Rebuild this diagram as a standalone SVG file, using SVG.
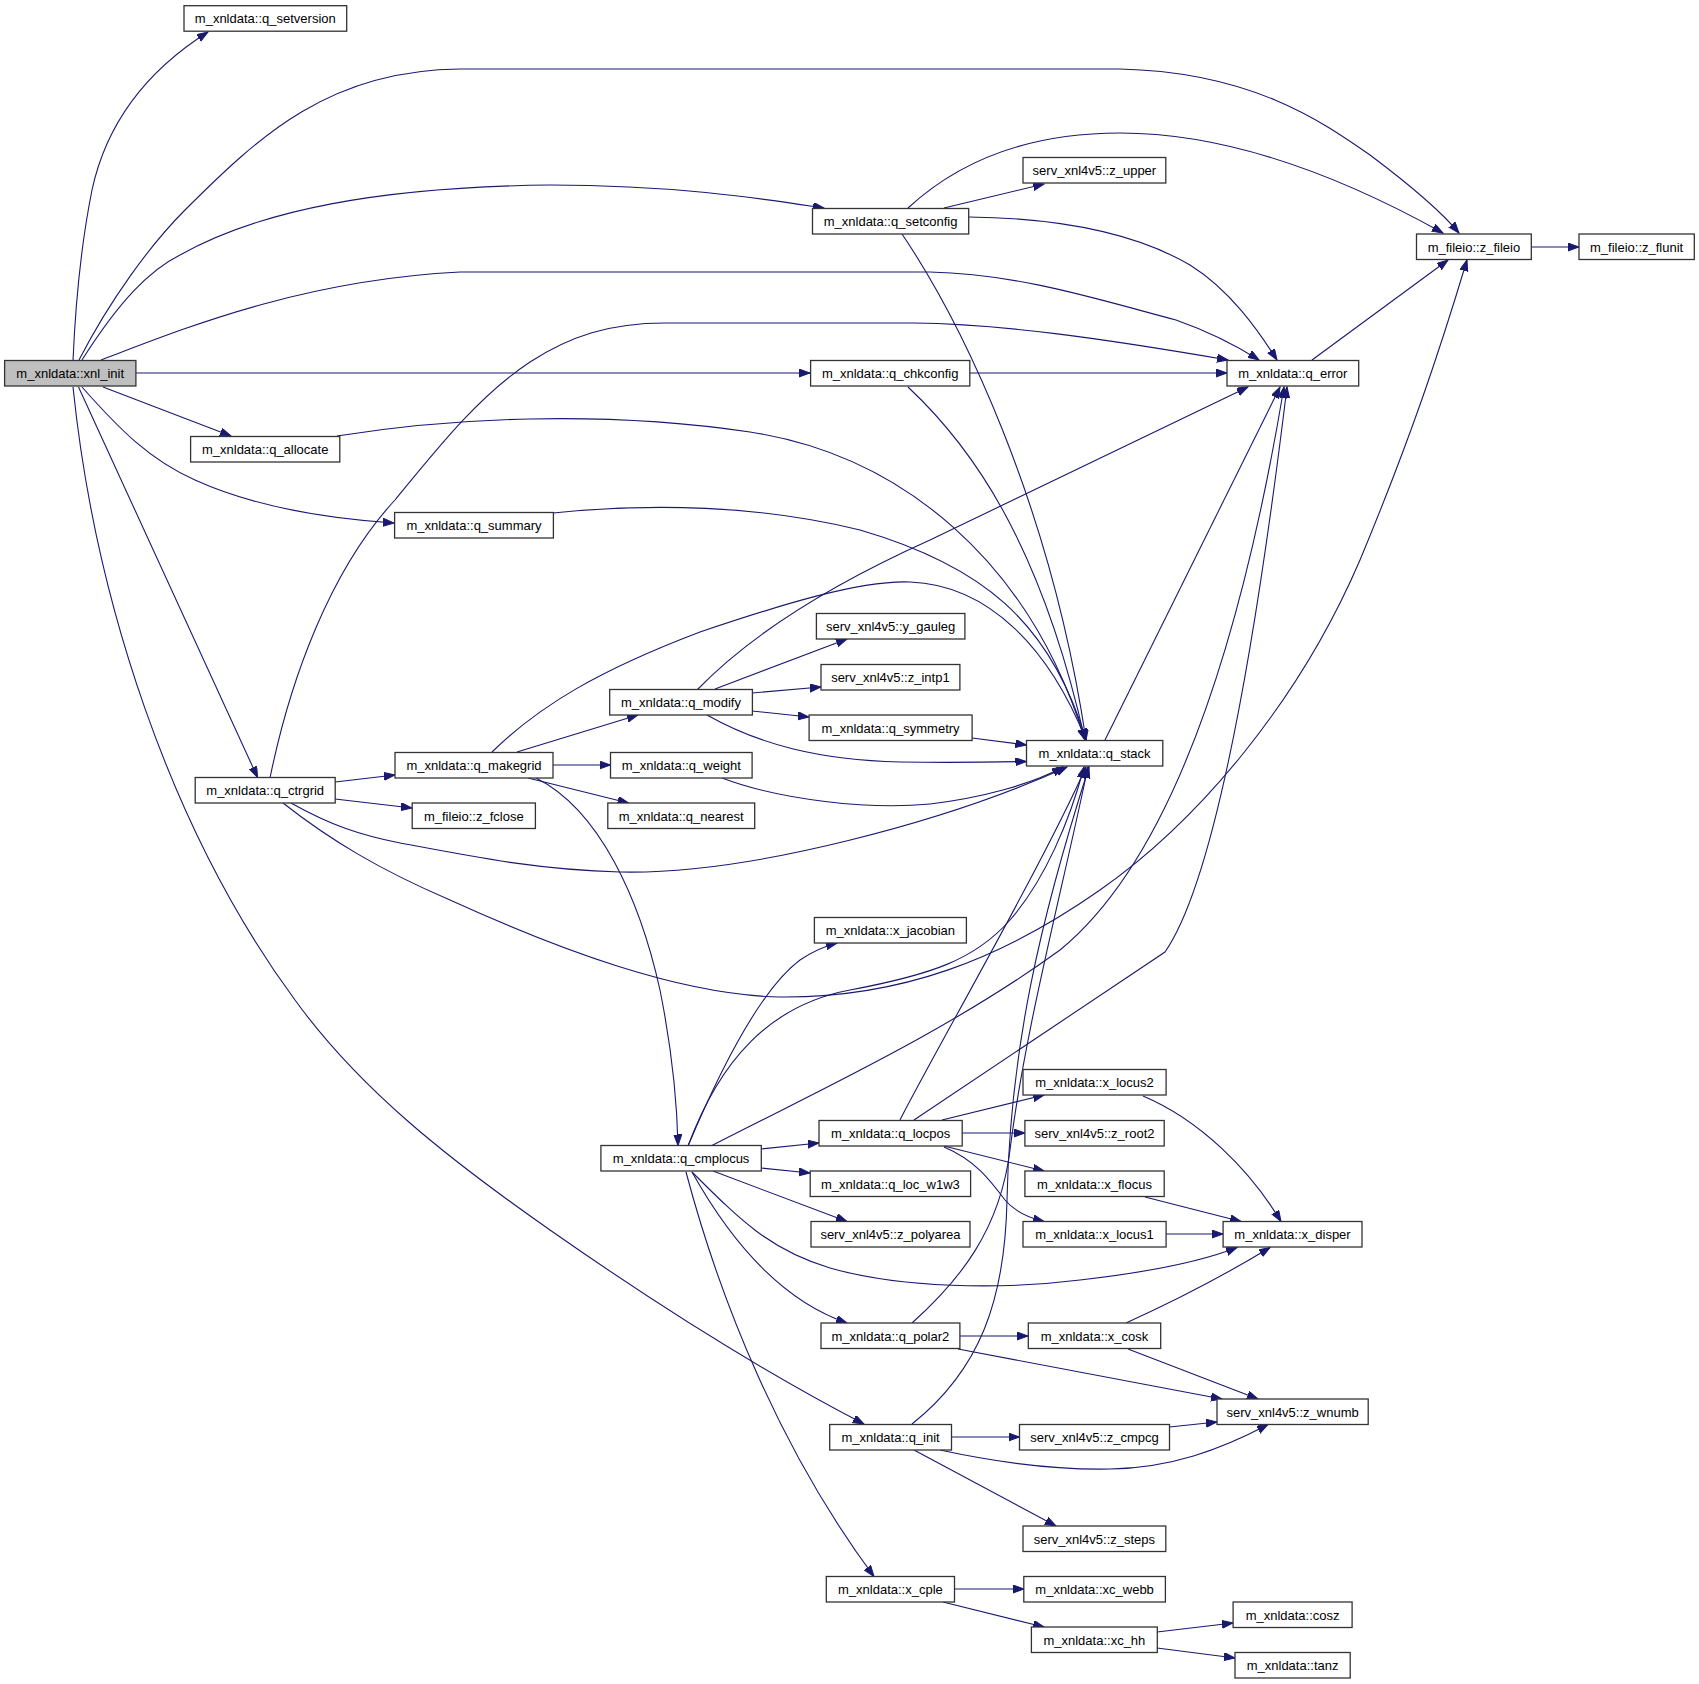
<svg xmlns="http://www.w3.org/2000/svg" width="1699" height="1684" viewBox="0 0 1699 1684">
<style>
.node rect{fill:#ffffff;stroke:#333333;stroke-width:1.3}
.node text{font-family:"Liberation Sans",Arial,sans-serif;font-size:13px;fill:#000000;text-anchor:middle}
.root rect{fill:#bfbfbf}
.edges path{fill:none;stroke:#191970;stroke-width:1.1;marker-end:url(#ah)}
</style>
<defs>
<marker id="ah" markerWidth="12" markerHeight="9" refX="11" refY="4" orient="auto" markerUnits="userSpaceOnUse">
<path d="M0,0 L11,4 L0,8 z" fill="#191970" stroke="#191970" stroke-width="1"/>
</marker>
</defs>
<rect x="0" y="0" width="1699" height="1684" fill="#ffffff"/>
<g class="edges" id="edges">
<path d="M73,361 C76,290 82,240 92,190 C105,130 140,75 208,32"/>
<path d="M79,360 C110,300 150,245 185,210 C260,135 330,70 460,69 L1120,69 C1250,72 1320,120 1370,155 C1410,185 1440,210 1459,233"/>
<path d="M82,360 C120,300 150,270 180,255 C260,210 380,187 550,185 C680,185 770,200 824,208"/>
<path d="M101,360 C180,330 300,280 460,272 L930,272 C1020,274 1100,300 1176,320 C1210,332 1237,346 1259,360"/>
<path d="M270,778 C290,680 330,570 395,500 C440,445 480,395 530,362 C570,336 610,323 665,323 L914,323 C1000,324 1100,338 1228,360"/>
<path d="M136,373 L810,373"/>
<path d="M970,373 L1227,373"/>
<path d="M103,387 L231,436"/>
<path d="M82,387 C120,430 150,460 195,480 C250,505 320,518 394,523"/>
<path d="M78.5,387 L257.6,777.5"/>
<path d="M73,387 C95,600 170,830 295,1000 C360,1090 450,1160 550,1230 C650,1300 760,1370 864,1424"/>
<path d="M337,436 C450,418 600,410 750,432 C900,455 1030,560 1085,740"/>
<path d="M902,234 C960,320 1050,500 1086,740"/>
<path d="M908,387 C970,445 1040,540 1085,740"/>
<path d="M553,513 C650,503 760,505 860,530 C980,565 1050,620 1086,740"/>
<path d="M492,752 C540,705 600,670 700,632 C780,605 860,580 910,582 C990,585 1050,650 1086,740"/>
<path d="M972,738 L1026.5,745"/>
<path d="M707,715 C760,745 820,760 900,762 C960,763 1000,762 1026.5,761.5"/>
<path d="M722,778 C780,800 870,810 930,804 C980,798 1030,785 1063,767"/>
<path d="M291,803 C330,825 360,835 400,843 C480,858 540,870 620,872 C750,875 950,820 1067,767"/>
<path d="M688,1146 C720,1060 770,1005 850,990 C930,975 975,960 1010,920 C1045,880 1070,820 1084,767"/>
<path d="M900,1120 C930,1060 1040,870 1086,767"/>
<path d="M912,1323 C960,1280 1000,1230 1010,1150 C1025,1030 1060,900 1088,767"/>
<path d="M912,1424 C980,1370 1005,1300 1007,1200 C1010,1050 1040,920 1089,767"/>
<path d="M1105,740 L1280,387"/>
<path d="M697,690 C750,635 830,585 930,540 L1248,387"/>
<path d="M969,217 C1050,218 1130,230 1190,265 C1230,290 1258,330 1277,360"/>
<path d="M711,1146 C820,1090 950,1030 1060,950 C1170,860 1240,650 1284,387"/>
<path d="M914,1120 L1165,952 C1215,880 1255,650 1287,387"/>
<path d="M908,208 C960,160 1030,133 1120,133 C1220,133 1330,170 1443,233"/>
<path d="M944,208 L1044,184"/>
<path d="M1312,360 L1448,260"/>
<path d="M1531,247 L1579,247"/>
<path d="M283,803 C330,840 380,870 450,900 C560,950 680,995 780,997 C900,998 1000,960 1100,890 C1200,820 1300,700 1360,560 C1410,440 1440,350 1467,260"/>
<path d="M335,782 L395,775"/>
<path d="M335,799 L412,808"/>
<path d="M517,752 L638,715"/>
<path d="M553,765 L610.5,765"/>
<path d="M528,778 L628.5,803"/>
<path d="M536,778 C600,810 640,900 660,990 C672,1050 677,1100 678,1145.5"/>
<path d="M715,689 L847,639"/>
<path d="M752,693 L821,687"/>
<path d="M752,711 L809,717"/>
<path d="M688,1146 C720,1070 760,990 800,960 C815,950 825,946 837,943"/>
<path d="M761,1149 L819,1143"/>
<path d="M761,1168 L810,1173"/>
<path d="M713,1171 L847,1221.5"/>
<path d="M692,1172 C740,1220 770,1250 830,1268 C900,1288 1000,1290 1080,1280 C1150,1272 1200,1262 1237,1247.5"/>
<path d="M692,1172 C730,1240 780,1300 847,1323"/>
<path d="M686,1172 C720,1300 780,1450 874,1576.5"/>
<path d="M942,1120 L1044,1095"/>
<path d="M962,1133 L1025,1133"/>
<path d="M944,1146 L1044,1171"/>
<path d="M944,1147 C975,1160 990,1180 1005,1200 C1015,1212 1030,1218 1044,1221.5"/>
<path d="M1143,1096 C1200,1120 1250,1170 1281,1221.5"/>
<path d="M1145,1197 L1241,1221.5"/>
<path d="M1166,1234 L1223,1234"/>
<path d="M1126,1323 C1170,1303 1220,1278 1270,1247.5"/>
<path d="M1128,1349 L1258,1399"/>
<path d="M960,1336 L1028,1336"/>
<path d="M958,1349 L1222,1399"/>
<path d="M951.5,1437 L1019.5,1437"/>
<path d="M940,1450 C1000,1463 1060,1470 1110,1469 C1170,1468 1220,1450 1268,1424.5"/>
<path d="M914,1450 L1056,1526"/>
<path d="M1169.5,1427 L1217,1422"/>
<path d="M954.5,1589 L1024,1589"/>
<path d="M943,1602 L1044,1627"/>
<path d="M1157,1632 L1233,1623"/>
<path d="M1157,1648 L1235,1658"/>
</g>
<g id="q_setversion" class="node"><rect x="184" y="5.7" width="162.7" height="25.5"/><text x="265.3" y="23.2">m_xnldata::q_setversion</text></g>
<g id="z_fileio" class="node"><rect x="1416.5" y="234" width="114.8" height="25.5"/><text x="1473.9" y="251.5">m_fileio::z_fileio</text></g>
<g id="z_flunit" class="node"><rect x="1579" y="234" width="115.3" height="25.5"/><text x="1636.6" y="251.5">m_fileio::z_flunit</text></g>
<g id="q_error" class="node"><rect x="1227" y="360.5" width="131.7" height="25.5"/><text x="1292.8" y="378">m_xnldata::q_error</text></g>
<g id="xnl_init" class="node root"><rect x="4.6" y="360.5" width="131.3" height="25.5"/><text x="70.2" y="378">m_xnldata::xnl_init</text></g>
<g id="q_setconfig" class="node"><rect x="812.5" y="208.5" width="156.2" height="25.5"/><text x="890.6" y="226">m_xnldata::q_setconfig</text></g>
<g id="z_upper" class="node"><rect x="1023" y="157.5" width="142.8" height="25.5"/><text x="1094.4" y="175">serv_xnl4v5::z_upper</text></g>
<g id="q_chkconfig" class="node"><rect x="810.6" y="360.5" width="159.2" height="25.5"/><text x="890.2" y="378">m_xnldata::q_chkconfig</text></g>
<g id="q_allocate" class="node"><rect x="190.6" y="436.5" width="149.2" height="25.5"/><text x="265.2" y="454">m_xnldata::q_allocate</text></g>
<g id="q_summary" class="node"><rect x="394.6" y="512.5" width="158.8" height="25.5"/><text x="474" y="530">m_xnldata::q_summary</text></g>
<g id="q_makegrid" class="node"><rect x="395" y="752.5" width="158" height="25.5"/><text x="474" y="770">m_xnldata::q_makegrid</text></g>
<g id="q_ctrgrid" class="node"><rect x="195.2" y="777.5" width="140" height="25.5"/><text x="265.2" y="795">m_xnldata::q_ctrgrid</text></g>
<g id="z_fclose" class="node"><rect x="412.2" y="803" width="123.2" height="25.5"/><text x="473.8" y="820.5">m_fileio::z_fclose</text></g>
<g id="y_gauleg" class="node"><rect x="816.4" y="613.5" width="148.5" height="25.5"/><text x="890.6" y="631">serv_xnl4v5::y_gauleg</text></g>
<g id="z_intp1" class="node"><rect x="821" y="664.5" width="138.9" height="25.5"/><text x="890.4" y="682">serv_xnl4v5::z_intp1</text></g>
<g id="q_modify" class="node"><rect x="609.7" y="689.5" width="142.7" height="25.5"/><text x="681" y="707">m_xnldata::q_modify</text></g>
<g id="q_symmetry" class="node"><rect x="809.1" y="715" width="163" height="25.5"/><text x="890.6" y="732.5">m_xnldata::q_symmetry</text></g>
<g id="q_stack" class="node"><rect x="1026.5" y="740.5" width="136.3" height="25.5"/><text x="1094.6" y="758">m_xnldata::q_stack</text></g>
<g id="q_weight" class="node"><rect x="610.5" y="752.5" width="141.6" height="25.5"/><text x="681.3" y="770">m_xnldata::q_weight</text></g>
<g id="q_nearest" class="node"><rect x="607.8" y="803" width="146.9" height="25.5"/><text x="681.2" y="820.5">m_xnldata::q_nearest</text></g>
<g id="x_jacobian" class="node"><rect x="814.4" y="917.5" width="152" height="25.5"/><text x="890.4" y="935">m_xnldata::x_jacobian</text></g>
<g id="x_locus2" class="node"><rect x="1023" y="1069.5" width="143.1" height="25.5"/><text x="1094.5" y="1087">m_xnldata::x_locus2</text></g>
<g id="q_locpos" class="node"><rect x="819" y="1120.5" width="143.2" height="25.5"/><text x="890.6" y="1138">m_xnldata::q_locpos</text></g>
<g id="z_root2" class="node"><rect x="1024.9" y="1120.5" width="139.3" height="25.5"/><text x="1094.5" y="1138">serv_xnl4v5::z_root2</text></g>
<g id="q_cmplocus" class="node"><rect x="600.9" y="1145.5" width="160.4" height="25.5"/><text x="681.1" y="1163">m_xnldata::q_cmplocus</text></g>
<g id="q_loc_w1w3" class="node"><rect x="810.2" y="1171" width="160.4" height="25.5"/><text x="890.4" y="1188.5">m_xnldata::q_loc_w1w3</text></g>
<g id="x_flocus" class="node"><rect x="1024.9" y="1171" width="139.3" height="25.5"/><text x="1094.5" y="1188.5">m_xnldata::x_flocus</text></g>
<g id="z_polyarea" class="node"><rect x="811" y="1221.5" width="159" height="25.5"/><text x="890.5" y="1239">serv_xnl4v5::z_polyarea</text></g>
<g id="x_locus1" class="node"><rect x="1023" y="1221.5" width="143.1" height="25.5"/><text x="1094.5" y="1239">m_xnldata::x_locus1</text></g>
<g id="x_disper" class="node"><rect x="1223.1" y="1221.5" width="138.9" height="25.5"/><text x="1292.5" y="1239">m_xnldata::x_disper</text></g>
<g id="q_polar2" class="node"><rect x="821" y="1323" width="138.9" height="25.5"/><text x="890.4" y="1340.5">m_xnldata::q_polar2</text></g>
<g id="x_cosk" class="node"><rect x="1028.3" y="1323" width="132.4" height="25.5"/><text x="1094.5" y="1340.5">m_xnldata::x_cosk</text></g>
<g id="z_wnumb" class="node"><rect x="1217" y="1399" width="151.2" height="25.5"/><text x="1292.6" y="1416.5">serv_xnl4v5::z_wnumb</text></g>
<g id="q_init" class="node"><rect x="829.7" y="1424.5" width="121.8" height="25.5"/><text x="890.6" y="1442">m_xnldata::q_init</text></g>
<g id="z_cmpcg" class="node"><rect x="1019.5" y="1424.5" width="150" height="25.5"/><text x="1094.5" y="1442">serv_xnl4v5::z_cmpcg</text></g>
<g id="z_steps" class="node"><rect x="1023" y="1526" width="142.8" height="25.5"/><text x="1094.4" y="1543.5">serv_xnl4v5::z_steps</text></g>
<g id="x_cple" class="node"><rect x="826.3" y="1576.5" width="128.2" height="25.5"/><text x="890.4" y="1594">m_xnldata::x_cple</text></g>
<g id="xc_webb" class="node"><rect x="1023.8" y="1576.5" width="141.6" height="25.5"/><text x="1094.6" y="1594">m_xnldata::xc_webb</text></g>
<g id="cosz" class="node"><rect x="1233.1" y="1602" width="119" height="25.5"/><text x="1292.6" y="1619.5">m_xnldata::cosz</text></g>
<g id="xc_hh" class="node"><rect x="1031.4" y="1627" width="125.9" height="25.5"/><text x="1094.4" y="1644.5">m_xnldata::xc_hh</text></g>
<g id="tanz" class="node"><rect x="1235" y="1652.5" width="115.2" height="25.5"/><text x="1292.6" y="1670">m_xnldata::tanz</text></g>
</svg>
